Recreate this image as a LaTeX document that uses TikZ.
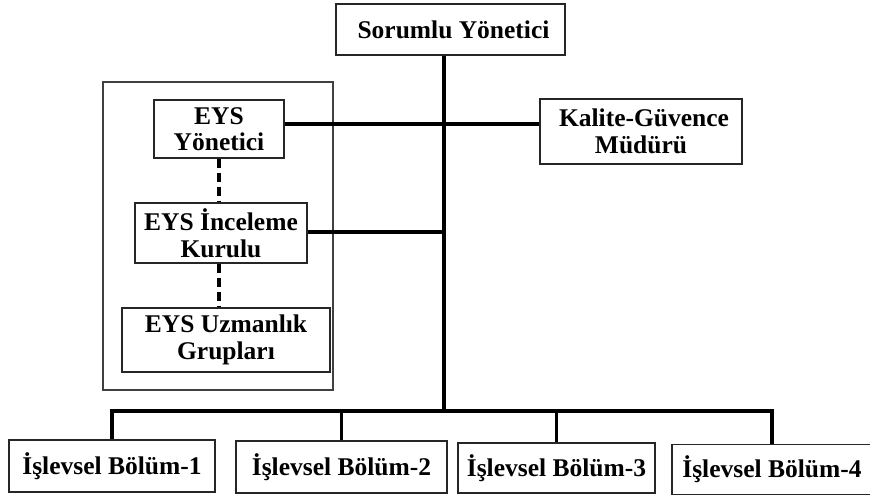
\documentclass[tikz,border=0pt]{standalone}
\usepackage{fontspec}
\setmainfont{Liberation Serif}
\begin{document}
\begin{tikzpicture}[x=1pt,y=-1pt,
  box/.style={draw=black!85, line width=1.4pt, inner sep=0pt, align=center,
    font=\fontsize{25.5}{26.5}\selectfont\bfseries},
  link/.style={line width=3.2pt, line cap=butt},
  dlink/.style={line width=3.2pt, dash pattern=on 9pt off 5pt}]
\useasboundingbox (0,0) rectangle (870,495);

% surrounding frame of the management system group
\draw[draw=black!75, line width=1.4pt] (103,82) rectangle (333,390);

\node[box, minimum width=229pt, minimum height=51pt] (top) at (450.5,29.5) {\hspace*{6pt}Sorumlu Yönetici};
\node[box, minimum width=130pt, minimum height=58pt] (yon) at (219,129) {EYS\\Yönetici};
\node[box, minimum width=172pt, minimum height=60pt] (ink) at (221,233) {EYS İnceleme\\Kurulu};
\node[box, minimum width=208pt, minimum height=64pt] (uzm) at (226,340) {EYS Uzmanlık\\Grupları};
\node[box, minimum width=202pt, minimum height=65pt] (kal) at (641,131.5) {\hspace*{6pt}Kalite-Güvence\\Müdürü};

\node[box, minimum width=206pt, minimum height=52pt] (b1) at (112,466) {İşlevsel Bölüm-1};
\node[box, minimum width=211pt, minimum height=52pt] (b2) at (341.5,467) {İşlevsel Bölüm-2};
\node[box, minimum width=197pt, minimum height=50pt] (b3) at (556.5,468) {İşlevsel Bölüm-3};
\node[box, minimum width=200pt, minimum height=50pt] (b4) at (772,469.5) {İşlevsel Bölüm-4};

\coordinate (bar) at (444,411);
\coordinate (trunk) at (444,0);

% main vertical line
\draw[link] (trunk |- top.south) -- (bar);
% side branches
\draw[link] (yon.east |- 0,124) -- (kal.west |- 0,124);
\draw[link] (ink.east |- 0,232) -- (trunk |- 0,232);
% dashed internal links
\draw[dlink] (yon.south) -- (yon.south |- ink.north);
\draw[dlink] (yon.south |- ink.south) -- (yon.south |- uzm.north);
% bottom distribution bar
\draw[link] (b1.north) -- (b1.north |- bar) -- (b4.north |- bar) -- (b4.north);
\draw[link] (b2.north) -- (b2.north |- bar);
\draw[link] (b3.north) -- (b3.north |- bar);
\end{tikzpicture}
\end{document}
